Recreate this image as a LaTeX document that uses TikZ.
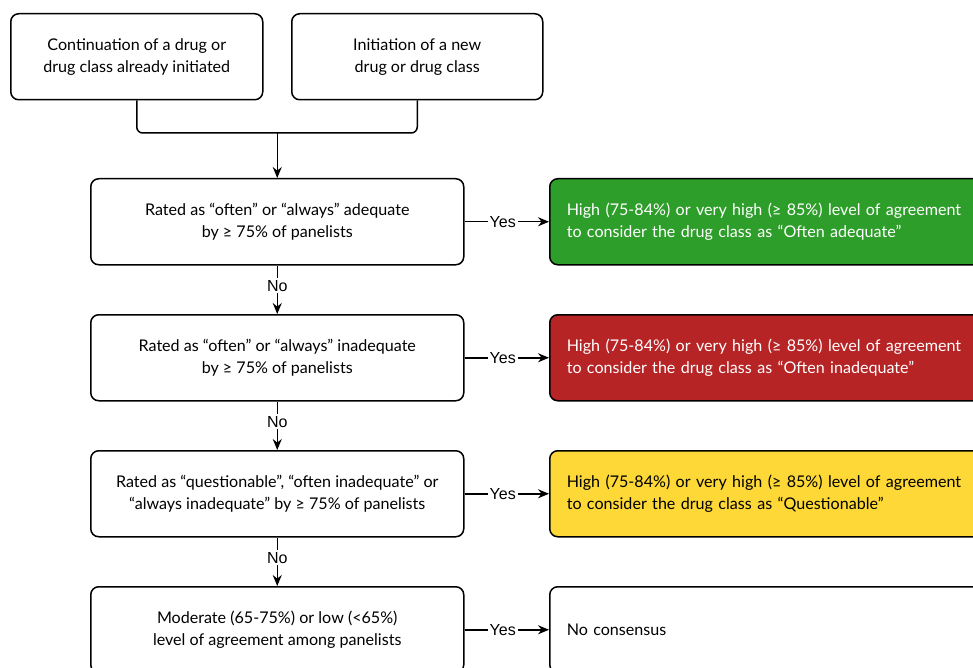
\documentclass[tikz,border=0pt]{standalone}
\usepackage{fontspec}
\setmainfont{Lato}
\newfontfamily\lblfont{Liberation Sans}
\usetikzlibrary{arrows.meta}
\definecolor{gbox}{RGB}{46,158,42}
\definecolor{rbox}{RGB}{183,36,38}
\definecolor{ybox}{RGB}{253,216,54}
\tikzset{
  box/.style={draw, line width=1.5pt, rounded corners=8pt, minimum height=86pt, align=center, font=\fontsize{16.1}{22}\selectfont, inner sep=0pt},
  leftbox/.style={box, anchor=north west},
  resbox/.style={box, anchor=north west, align=left, minimum width=460pt, text width=426pt, inner sep=17pt, minimum height=86pt},
  arr/.style={line width=1.5pt, -{Stealth[length=11pt,width=9pt]}},
  lbl/.style={fill=white, inner sep=2pt, font=\lblfont\fontsize{16}{18}\selectfont}
}
\begin{document}
\begin{tikzpicture}[x=1pt,y=-1pt]
\useasboundingbox (0,0) rectangle (973,668);
\clip (0,0) rectangle (973,668);
\node[leftbox, minimum width=252pt] (a) at (10,13) {Continuation of a drug or\\drug class already initiated};
\node[leftbox, minimum width=251pt] (b) at (291,13) {Initiation of a new\\drug or drug class};
\node[leftbox, minimum width=373pt] (c1) at (90,178) {Rated as ``often'' or ``always'' adequate\\by \char"2265\ 75\% of panelists};
\node[leftbox, minimum width=373pt] (c2) at (90,314) {Rated as ``often'' or ``always'' inadequate\\by \char"2265\ 75\% of panelists};
\node[leftbox, minimum width=373pt] (c3) at (90,450) {Rated as ``questionable'', ``often inadequate'' or\\``always inadequate'' by \char"2265\ 75\% of panelists};
\node[leftbox, minimum width=373pt] (c4) at (90,586) {Moderate (65-75\%) or low (<65\%)\\level of agreement among panelists};
\node[resbox, fill=gbox, text=white] (r1) at (549,178) {High (75-84\%) or very high (\char"2265\ 85\%) level of agreement\\to consider the drug class as ``Often adequate''};
\node[resbox, fill=rbox, text=white] (r2) at (549,314) {High (75-84\%) or very high (\char"2265\ 85\%) level of agreement\\to consider the drug class as ``Often inadequate''};
\node[resbox, fill=ybox] (r3) at (549,450) {High (75-84\%) or very high (\char"2265\ 85\%) level of agreement\\to consider the drug class as ``Questionable''};
\node[resbox] (r4) at (549,586) {No consensus\\[0pt]};
\coordinate (m) at (c1.north |- 0,133);
\draw[line width=1.5pt, rounded corners=6pt] (a.south) |- (m) -| (b.south);
\draw[arr] (m) -- (c1.north);
\draw[arr] (c1.south) -- node[lbl, pos=0.42] {No} (c2.north);
\draw[arr] (c2.south) -- node[lbl, pos=0.42] {No} (c3.north);
\draw[arr] (c3.south) -- node[lbl, pos=0.42] {No} (c4.north);
\draw[arr] (c1.east) -- node[lbl, xshift=-4pt] {Yes} (r1.west);
\draw[arr] (c2.east) -- node[lbl, xshift=-4pt] {Yes} (r2.west);
\draw[arr] (c3.east) -- node[lbl, xshift=-4pt] {Yes} (r3.west);
\draw[arr] (c4.east) -- node[lbl, xshift=-4pt] {Yes} (r4.west);
\end{tikzpicture}
\end{document}
